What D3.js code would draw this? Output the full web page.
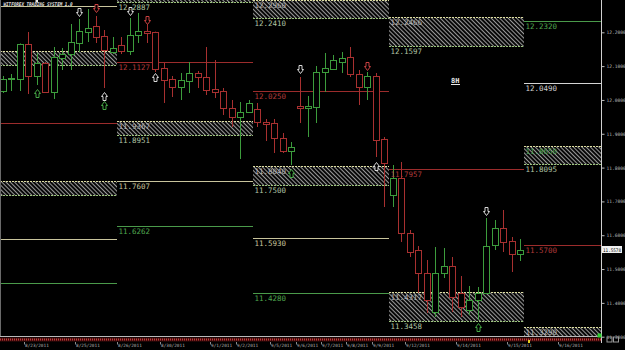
<!DOCTYPE html>
<html>
<head>
<meta charset="utf-8">
<script src="https://cdn.jsdelivr.net/npm/d3@7"></script>
<style>
  body { margin: 0; background: #000; }
  svg { display: block; }
  text { font-family: "DejaVu Sans Mono", monospace; }
</style>
</head>
<body>
<div id="chart"></div>
<script>
// 8H candles, one row per bar
const candleOpen = [12.0264, 12.0619, 12.0619, 12.1654, 12.0708, 12.1092, 12.0235, 12.1240, 12.1358, 12.1684,
  12.2009, 12.2186, 12.1891, 12.1417, 12.1625, 12.1447, 12.1920, 12.2038, 12.2009, 12.0944,
  12.0619, 12.0383, 12.0560, 12.0797, 12.0678, 12.0323, 12.0264, 11.9762, 11.9496, 11.9644,
  11.9732, 11.9348, 11.9318, 11.8875, 11.8490, 11.9821, 11.9762, 11.9791, 12.0826, 12.0915,
  12.1122, 12.1270, 12.0767, 12.0383, 12.0708, 11.8845, 11.7189, 11.7692, 11.6066, 11.5563,
  11.4883, 11.3730, 11.4883, 11.5090, 11.4292, 11.3789, 11.4085, 11.4292, 11.5711, 11.6214,
  11.5829, 11.5445];
const candleHigh = [12.0708, 12.0767, 12.1670, 12.2009, 12.1388, 12.1122, 12.1565, 12.1536, 12.2245, 12.2393,
  12.2689, 12.2482, 12.2068, 12.1861, 12.1861, 12.2423, 12.2571, 12.2245, 12.2020, 12.1092,
  12.0708, 12.0797, 12.1122, 12.0856, 12.1565, 12.1181, 12.0353, 11.9998, 11.9939, 11.9998,
  11.9910, 11.9437, 11.9437, 11.9023, 11.8756, 12.0678, 12.0117, 12.1004, 12.1388, 12.1329,
  12.1417, 12.1565, 12.0885, 12.0826, 12.0797, 11.8904, 11.8076, 11.8165, 11.6155, 11.5681,
  11.5268, 11.5652, 11.5622, 11.5356, 11.4794, 11.4499, 11.4469, 11.6509, 11.6450, 11.6746,
  11.5948, 11.5888];
const candleLow = [12.0205, 12.0264, 12.0264, 12.0176, 12.0442, 12.0220, 12.0028, 12.0885, 12.0885, 12.1417,
  12.1713, 12.1684, 12.0353, 12.1358, 12.1358, 12.1329, 12.1684, 12.1684, 12.0826, 11.9910,
  12.0087, 11.9998, 12.0205, 12.0353, 12.0146, 12.0057, 11.9555, 11.9200, 11.8254, 11.9614,
  11.9200, 11.8786, 11.8431, 11.8431, 11.8076, 11.9318, 11.8904, 11.9318, 12.0235, 12.0885,
  12.0797, 12.0678, 11.9850, 11.9998, 11.8313, 11.6834, 11.6834, 11.5800, 11.5356, 11.4292,
  11.3700, 11.3582, 11.4735, 11.3730, 11.3582, 11.3641, 11.3493, 11.4280, 11.5563, 11.5504,
  11.4913, 11.5238];
const candleClose = [12.0619, 12.0649, 12.1654, 12.0708, 12.1092, 12.0235, 12.1270, 12.1358, 12.1713, 12.2038,
  12.2127, 12.1861, 12.1477, 12.1536, 12.1447, 12.1920, 12.2038, 12.1979, 12.0915, 12.0590,
  12.0383, 12.0590, 12.0797, 12.0678, 12.0294, 12.0235, 11.9762, 11.9496, 11.9644, 11.9910,
  11.9348, 11.9289, 11.8875, 11.8490, 11.8609, 11.9762, 11.9821, 12.0826, 12.0944, 12.1181,
  12.1240, 12.0767, 12.0383, 12.0708, 11.8816, 11.8135, 11.7692, 11.6066, 11.5504, 11.4883,
  11.4085, 11.4883, 11.5090, 11.4173, 11.3878, 11.4085, 11.4292, 11.5681, 11.6214, 11.5800,
  11.5445, 11.5578];

// signal arrows: bar index, price, kind
const arrowIdx   = [4, 9, 11, 12, 12, 15, 17, 18, 34, 35, 43, 44, 56, 57];
const arrowPrice = [12.0191, 12.2600, 12.2704, 12.0102, 11.9836, 12.2615, 12.2364, 12.0664, 11.7840, 12.0915, 12.0989, 11.8047, 11.3301, 11.6716];
const arrowKind  = ["greenUp", "whiteDown", "redDown", "whiteUp", "greenUp", "whiteDown", "redDown", "whiteUp", "greenUp", "whiteDown", "redDown", "whiteUp", "greenUp", "whiteDown"];

// weekly pivot blocks (in bar index units)
const weekStart = [-2.5, 13.5, 29.5, 45.5, 61.5];
const weekEnd   = [13.5, 29.5, 45.5, 61.5, 70.5];

const zoneWeek   = [0, 0, 1, 1, 2, 2, 3, 3, 4, 4];
const zoneTop    = [12.1447, 11.7603, 12.3700, 11.9367, 12.2960, 11.8040, 12.2466, 11.4317, 11.8650, 11.3290];
const zoneBottom = [12.1033, 11.7189, 12.2887, 11.8951, 12.2410, 11.7500, 12.1597, 11.3458, 11.8095, 11.2500];

const lineWeek  = [0, 0, 0, 0, 1, 1, 1, 2, 2, 2, 3, 4, 4, 4];
const lineValue = [12.2778, 11.9318, 11.5888, 11.4588, 12.1127, 11.7607, 11.6262, 12.0250, 11.5930, 11.4280, 11.7957, 12.2320, 12.0490, 11.5700];
const lineKind  = ["khaki", "red", "khaki", "green", "red", "khaki", "green", "red", "khaki", "green", "red", "green", "white", "red"];

const priceTicks = [11.3, 11.4, 11.5, 11.6, 11.7, 11.8, 11.9, 12.0, 12.1, 12.2];
const lastPrice = 11.5578;

const dateLabels = ["8/23/2011", "8/25/2011", "8/26/2011", "8/30/2011", "9/1/2011", "9/2/2011", "9/5/2011", "9/6/2011",
  "9/7/2011", "9/8/2011", "9/9/2011", "9/12/2011", "9/14/2011", "9/15/2011", "9/16/2011"];
const dateIdx = [2.5, 8.5, 13.5, 18.5, 24.4, 27.5, 31.5, 34.6, 37.5, 40.5, 43.5, 47.4, 53.5, 59.5, 65.5];

const lineColor = { khaki: "#c8c49c", red: "#9c2c2c", green: "#4a9a4a", white: "#d4d4d4" };
const labelColor = { khaki: "#c8c49c", red: "#b03a3a", green: "#4fa64f", white: "#d0d0d0" };
const arrowColor = { white: "#d8d8d8", red: "#c84040", green: "#44a844" };

const width = 625, height = 350;
const svg = d3.select("#chart").append("svg")
  .attr("width", width).attr("height", height)
  .style("background", "#000");

const x = d3.scaleLinear().domain([0, 61]).range([2.7, 519.98]);
const y = d3.scaleLinear().domain([11.3, 12.2]).range([336.7, 32.3]);
const px = v => Math.round(x(v)) + 0.5;
const py = v => Math.round(y(v)) + 0.5;

const defs = svg.append("defs");
defs.append("clipPath").attr("id", "plot")
  .append("rect").attr("x", 1).attr("y", 0).attr("width", 600).attr("height", 336.5);
defs.append("pattern").attr("id", "hatch")
  .attr("patternUnits", "userSpaceOnUse").attr("width", 3).attr("height", 3)
  .attr("patternTransform", "rotate(-45)")
  .append("line").attr("x1", 1.5).attr("y1", 0).attr("x2", 1.5).attr("y2", 3)
  .attr("stroke", "#9a9a9a").attr("stroke-width", 1.1);

const plot = svg.append("g").attr("clip-path", "url(#plot)");
const labels = svg.append("g"); // drawn after marks, only when inside the plot

function addLabel(xp, yp, txt, color) {
  if (yp < 6 || yp > 337) return;
  labels.append("text").attr("x", xp).attr("y", yp)
    .attr("font-size", 7.5).attr("fill", color).text(txt);
}

// zones
zoneWeek.forEach((w, i) => {
  const x0 = Math.round(x(weekStart[w])), x1 = Math.round(x(weekEnd[w]));
  const yt = py(zoneTop[i]), yb = py(zoneBottom[i]);
  plot.append("rect").attr("x", x0).attr("y", yt).attr("width", x1 - x0).attr("height", yb - yt)
    .attr("fill", "url(#hatch)");
  plot.append("line").attr("x1", x0).attr("x2", x1).attr("y1", yt).attr("y2", yt)
    .attr("stroke", "#dcdca0").attr("stroke-dasharray", "2,1");
  plot.append("line").attr("x1", x0).attr("x2", x1).attr("y1", yb).attr("y2", yb)
    .attr("stroke", "#9cc47c").attr("stroke-dasharray", "2,1");
  if (w > 0) {
    addLabel(x0 + 1.5, yt + 7.5, zoneTop[i].toFixed(4), w === 4 && i === 8 ? "#4fa64f" : "#b4b4b4");
    addLabel(x0 + 1.5, yb + 7.7, zoneBottom[i].toFixed(4), "#b0c4a4");
  }
});

// level lines
lineWeek.forEach((w, i) => {
  const x0 = Math.round(x(weekStart[w])), x1 = Math.round(x(weekEnd[w]));
  const yl = py(lineValue[i]);
  plot.append("line").attr("x1", x0).attr("x2", x1).attr("y1", yl).attr("y2", yl)
    .attr("stroke", lineColor[lineKind[i]]);
  if (w > 0) addLabel(x0 + 1.5, yl + 7.7, lineValue[i].toFixed(4), labelColor[lineKind[i]]);
});

// candles
const candles = plot.append("g");
candleOpen.forEach((o, i) => {
  const c = candleClose[i];
  const col = c >= o ? "#3c9c3c" : "#a83030";
  const cx = px(i);
  candles.append("line").attr("x1", cx).attr("x2", cx)
    .attr("y1", y(candleHigh[i])).attr("y2", y(candleLow[i]))
    .attr("stroke", col);
  const top = py(Math.max(o, c)), bot = py(Math.min(o, c));
  candles.append("rect").attr("x", cx - 3).attr("y", top)
    .attr("width", 6).attr("height", Math.max(bot - top, 1))
    .attr("fill", "#000").attr("stroke", col);
});

// arrows
const downPath = "M-1.5,-4H1.5V0H3L0,4L-3,0H-1.5Z";
const upPath = "M-1.5,4H1.5V0H3L0,-4L-3,0H-1.5Z";
arrowIdx.forEach((idx, i) => {
  const kind = arrowKind[i];
  const colorKey = kind.replace(/Up|Down/, "");
  plot.append("path")
    .attr("d", kind.endsWith("Down") ? downPath : upPath)
    .attr("transform", `translate(${px(idx)},${Math.round(y(arrowPrice[i])) + 0.5})`)
    .attr("fill", "#000").attr("stroke", arrowColor[colorKey]).attr("stroke-width", 1);
});

// left border and right price axis
svg.append("line").attr("x1", 0.5).attr("x2", 0.5).attr("y1", 0).attr("y2", 337).attr("stroke", "#6a6a6a");
svg.append("line").attr("x1", 601.5).attr("x2", 601.5).attr("y1", 0).attr("y2", 343).attr("stroke", "#d0d0d0");

const axis = svg.append("g").attr("transform", "translate(601.5,0)")
  .call(d3.axisRight(y).tickValues(priceTicks).tickSize(3).tickPadding(2).tickFormat(d3.format(".4f")));
axis.select(".domain").remove();
axis.selectAll(".tick line").attr("stroke", "#c0c0c0");
axis.selectAll(".tick text").attr("fill", "#b8b8b8").attr("font-size", 4.6)
  .attr("font-family", "DejaVu Sans Mono");

// last price tag
svg.append("rect").attr("x", 602).attr("y", y(lastPrice) - 3.5).attr("width", 20).attr("height", 7).attr("fill", "#f0f0f0");
svg.append("text").attr("x", 603).attr("y", y(lastPrice) + 2).attr("font-size", 4.8).attr("fill", "#000")
  .attr("textLength", 18).attr("lengthAdjust", "spacingAndGlyphs")
  .text(lastPrice.toFixed(4));

// 8H tag
svg.append("text").attr("x", 451).attr("y", 83).attr("font-size", 7).attr("font-weight", "bold")
  .attr("font-family", "DejaVu Sans").attr("fill", "#e8e8e8").text("8H");
svg.append("line").attr("x1", 451).attr("x2", 460).attr("y1", 84.5).attr("y2", 84.5).attr("stroke", "#e8e8e8");

// title
svg.append("text").attr("x", 3.5).attr("y", 5.5).attr("font-size", 5).attr("font-style", "italic")
  .attr("font-weight", "bold").attr("font-family", "DejaVu Sans").attr("fill", "#e0e0e0")
  .attr("textLength", 69).attr("lengthAdjust", "spacingAndGlyphs")
  .text("WITFOREX TRADING SYSTEM 1.0");
svg.append("rect").attr("x", 35.5).attr("y", 0).attr("width", 2.5).attr("height", 2.5).attr("fill", "#e8e8e8");

// bottom time strip
svg.append("line").attr("x1", 0).attr("x2", 601).attr("y1", 336.5).attr("y2", 336.5).attr("stroke", "#b8b8b8");
svg.append("rect").attr("x", 0).attr("y", 337.5).attr("width", 601).attr("height", 4).attr("fill", "#3c0a0a");
svg.append("line").attr("x1", 0).attr("x2", 601).attr("y1", 339.5).attr("y2", 339.5)
  .attr("stroke", "#c43c3c").attr("stroke-width", 2).attr("stroke-dasharray", "1,1");
svg.append("rect").attr("x", 528).attr("y", 340).attr("width", 2).attr("height", 3).attr("fill", "#e8d020");
svg.append("rect").attr("x", 597.5).attr("y", 333.5).attr("width", 4).attr("height", 4).attr("fill", "#30d030");
svg.append("rect").attr("x", 607).attr("y", 337).attr("width", 5).attr("height", 5).attr("fill", "none").attr("stroke", "#9a9a9a");
svg.append("rect").attr("x", 613.5).attr("y", 337).attr("width", 5).attr("height", 5).attr("fill", "none").attr("stroke", "#9a9a9a");

const dates = svg.append("g");
dateLabels.forEach((d, i) => {
  const dx = Math.round(x(dateIdx[i])) + 0.5;
  dates.append("line").attr("x1", dx).attr("x2", dx).attr("y1", 342).attr("y2", 344.5).attr("stroke", "#8a8a8a");
  dates.append("text").attr("x", dx + 0.5).attr("y", 347).attr("font-size", 4.4)
    .attr("font-family", "DejaVu Sans").attr("fill", "#b0b0b0").text(d);
});
</script>
</body>
</html>
